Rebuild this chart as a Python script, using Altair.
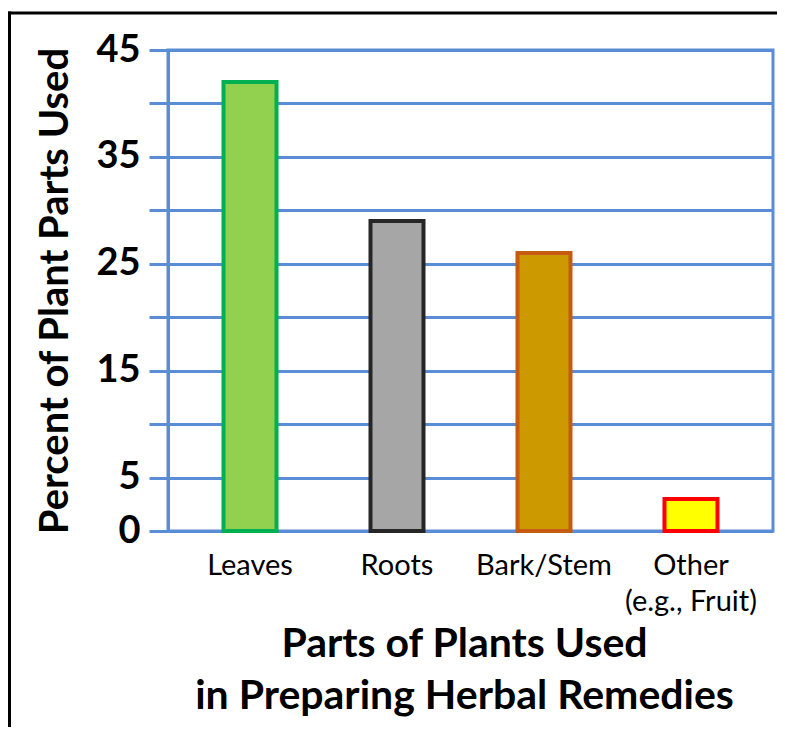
import altair as alt
import pandas as pd

categories = ["Leaves", "Roots", "Bark/Stem", "Other\n(e.g., Fruit)"]
values = [42, 29, 26, 3]
fills = ["#92D050", "#A6A6A6", "#CC9900", "#FFFF00"]
strokes = ["#00B050", "#262626", "#C55A11", "#FF0000"]
y_ticks = [0, 5, 10, 15, 20, 25, 30, 35, 40, 45]

df = pd.DataFrame({"part": categories, "pct": values, "fill": fills, "edge": strokes})

BLUE = "#5A8DD6"
FONT = "Lato"

bars = alt.Chart(df).mark_bar(size=53, strokeWidth=4).encode(
    x=alt.X(
        "part:N",
        sort=None,
        scale=alt.Scale(paddingInner=0, paddingOuter=0.058),
        axis=alt.Axis(
            title=["Parts of Plants Used", "in Preparing Herbal Remedies"],
            titleFontSize=41,
            titleFontWeight="bold",
            titleFont=FONT,
            titleColor="black",
            titleLineHeight=52,
            titlePadding=8,
            titleX=296,
            labelAngle=0,
            labelFont=FONT,
            labelFontSize=29,
            labelColor="black",
            labelPadding=20,
            labelLineHeight=36,
            labelExpr="split(datum.label, '\\n')",
            domain=False,
            ticks=False,
        ),
    ),
    y=alt.Y(
        "pct:Q",
        scale=alt.Scale(domain=[0, 45], nice=False),
        axis=alt.Axis(
            title="Percent of Plant Parts Used",
            titleFontSize=40,
            titleFontWeight="bold",
            titleFont=FONT,
            titleColor="black",
            titlePadding=20,
            values=y_ticks,
            labelExpr="(datum.value % 10 == 5 || datum.value == 0) ? datum.label : ''",
            labelFont=FONT,
            labelFontSize=38,
            labelFontWeight="bold",
            labelColor="black",
            labelPadding=9,
            tickSize=19,
            tickColor=BLUE,
            tickWidth=3,
            domainColor=BLUE,
            domainWidth=3,
            grid=True,
            gridColor=BLUE,
            gridWidth=3,
            gridOpacity=1,
        ),
    ),
    color=alt.Color("fill:N", scale=None, legend=None),
    stroke=alt.Stroke("edge:N", scale=None, legend=None),
)

frame_data = alt.Data(values=[{}])
top_border = alt.Chart(frame_data).mark_rule(color="black", strokeWidth=3).encode(
    x=alt.value(-160), x2=alt.value(617), y=alt.value(-37)
)
left_border = alt.Chart(frame_data).mark_rule(color="black", strokeWidth=3).encode(
    x=alt.value(-158.5), y=alt.value(-38.5), y2=alt.value(700)
)

chart = alt.layer(bars, top_border, left_border).properties(
    width=605,
    height=481,
    autosize=alt.AutoSizeParams(type="none"),
    padding={"left": 160, "top": 42, "right": 4, "bottom": 196},
    background="white",
).configure_view(stroke=BLUE, strokeWidth=3)

chart.save("out.html", embed_options={"renderer": "svg", "actions": False})
